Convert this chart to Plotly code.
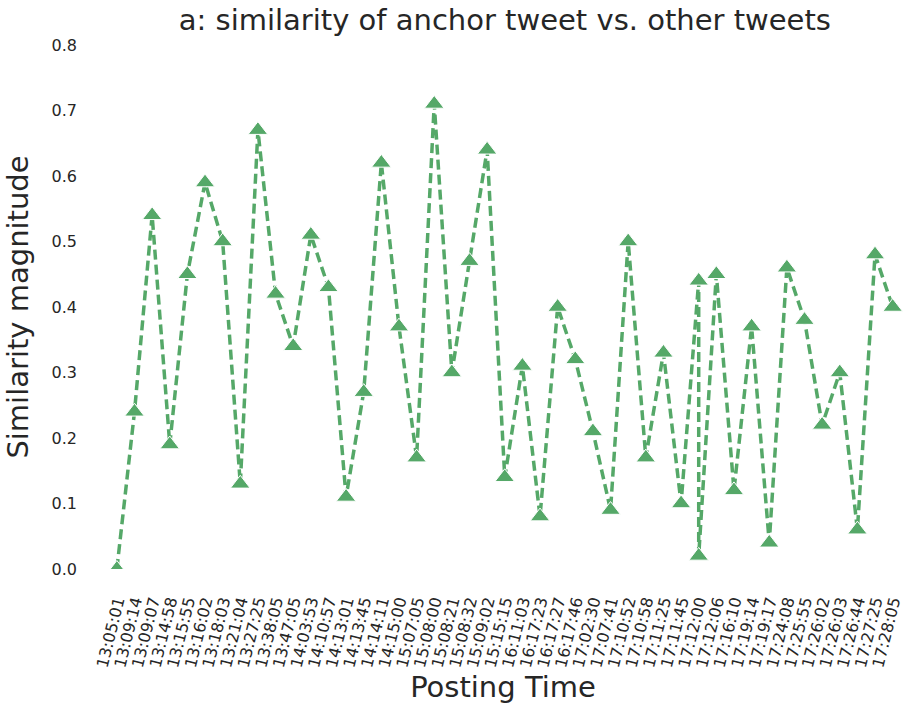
import plotly.graph_objects as go

# Posting times of the tweets (17:12:00 appears twice: two tweets share that stamp)
posting_times = [
    "13:05:01", "13:09:14", "13:09:07", "13:14:58", "13:15:55", "13:16:02",
    "13:18:03", "13:21:04", "13:27:25", "13:38:05", "13:47:05", "14:03:53",
    "14:10:57", "14:13:01", "14:13:45", "14:14:11", "14:15:00", "15:07:05",
    "15:08:00", "15:08:21", "15:08:32", "15:09:02", "15:15:15", "16:11:03",
    "16:17:23", "16:17:27", "16:17:46", "17:02:30", "17:07:41", "17:10:52",
    "17:10:58", "17:11:25", "17:11:45", "17:12:00", "17:12:00", "17:12:06",
    "17:16:10", "17:19:14", "17:19:17", "17:24:08", "17:25:55", "17:26:02",
    "17:26:03", "17:26:44", "17:27:25", "17:28:05",
]

# Similarity of the anchor tweet with each tweet
similarity = [
    0.00, 0.24, 0.54, 0.19, 0.45, 0.59,
    0.50, 0.13, 0.67, 0.42, 0.34, 0.51,
    0.43, 0.11, 0.27, 0.62, 0.37, 0.17,
    0.71, 0.30, 0.47, 0.64, 0.14, 0.31,
    0.08, 0.40, 0.32, 0.21, 0.09, 0.50,
    0.17, 0.33, 0.10, 0.44, 0.02, 0.45,
    0.12, 0.37, 0.04, 0.46, 0.38, 0.22,
    0.30, 0.06, 0.48, 0.40,
]

y_ticks = [0.0, 0.1, 0.2, 0.3, 0.4, 0.5, 0.6, 0.7, 0.8]

GREEN = "#55a868"
TEXT = "#262626"
FONT = "DejaVu Sans"

unique_times = list(dict.fromkeys(posting_times))

fig = go.Figure()
fig.add_trace(go.Scatter(
    x=posting_times,
    y=similarity,
    mode="lines+markers",
    line=dict(color=GREEN, width=3.5, dash="10px,5px"),
    marker=dict(symbol="triangle-up", size=17, color=GREEN,
                line=dict(color="white", width=1)),
    cliponaxis=True,
    showlegend=False,
))

fig.update_layout(
    width=908,
    height=711,
    margin=dict(l=101, r=3, t=45, b=142),
    paper_bgcolor="white",
    plot_bgcolor="white",
    font=dict(family=FONT, color=TEXT, size=16),
    title=dict(
        text="a: similarity of anchor tweet vs. other tweets",
        x=0.556, xanchor="center", y=0.972, yanchor="middle",
        font=dict(size=29, color=TEXT, family=FONT),
    ),
)

fig.update_xaxes(
    type="category",
    categoryorder="array",
    categoryarray=unique_times,
    tickmode="array",
    tickvals=unique_times,
    ticktext=unique_times,
    range=[-0.9, len(unique_times) - 1 + 0.7],
    tickangle=-76,
    tickfont=dict(size=16, color=TEXT, family=FONT),
    ticks="",
    ticklabelstandoff=19,
    showgrid=False,
    zeroline=False,
    showline=False,
    title=dict(text="Posting Time", font=dict(size=29, color=TEXT, family=FONT),
               standoff=8),
)

fig.update_yaxes(
    range=[0, 0.8],
    tickvals=y_ticks,
    ticktext=[f"{v:.1f}" for v in y_ticks],
    tickfont=dict(size=16, color=TEXT, family=FONT),
    ticks="",
    ticklabelstandoff=23,
    showgrid=False,
    zeroline=False,
    showline=False,
    title=dict(text="Similarity magnitude", font=dict(size=29, color=TEXT, family=FONT),
               standoff=14),
)

fig.write_html("out.html")
